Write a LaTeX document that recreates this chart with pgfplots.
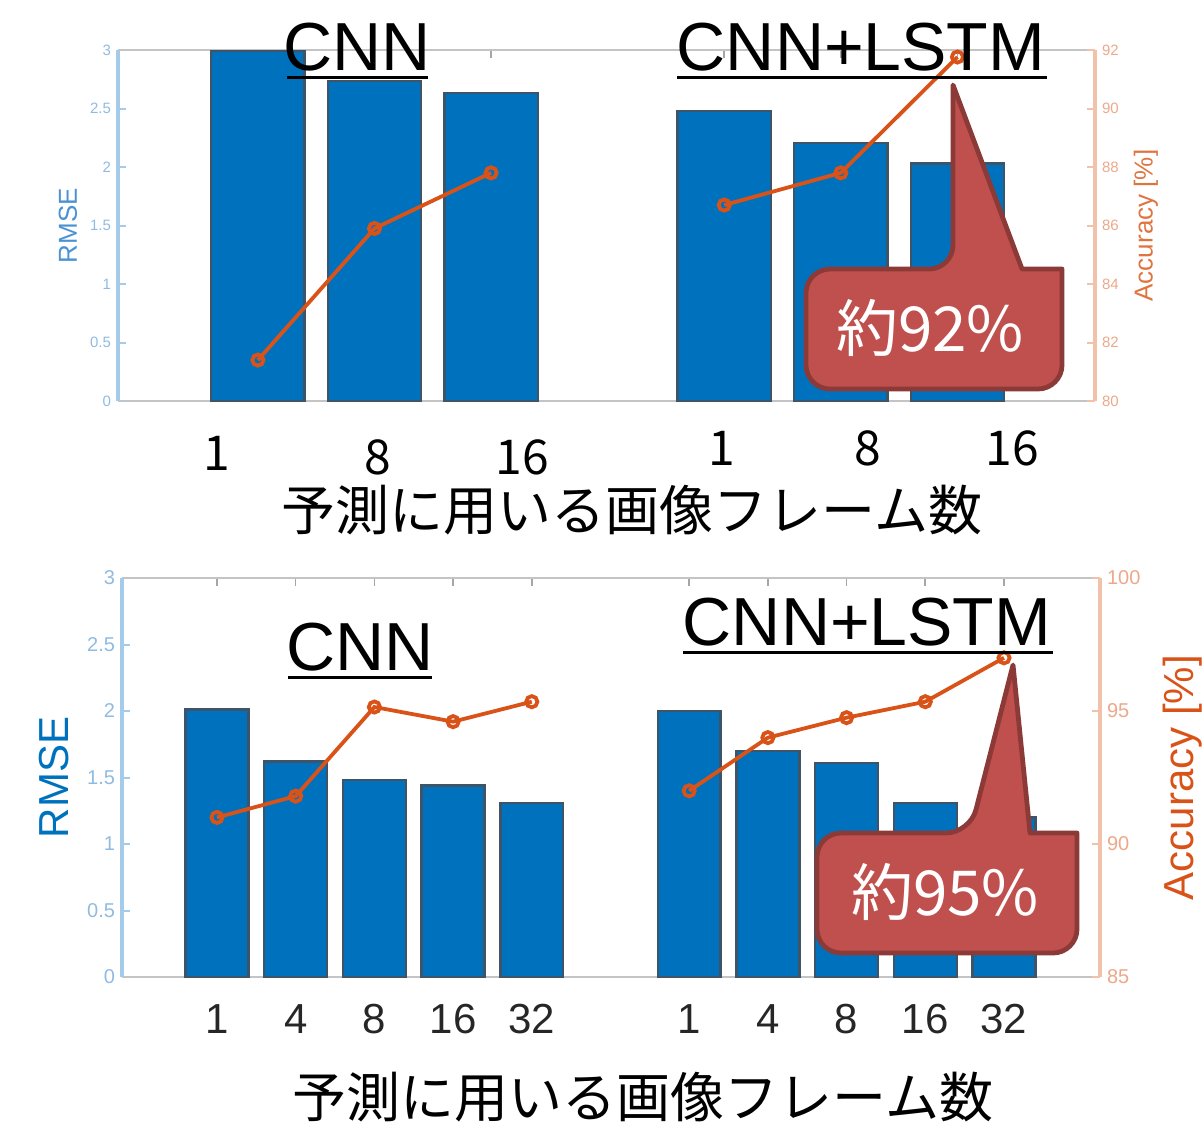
\documentclass[border=0pt]{standalone}
\usepackage{pgfplots}
\pgfplotsset{compat=1.18}
\usepackage{fontspec}
\setmainfont{Liberation Sans}
\newfontfamily\jp{Noto Sans CJK JP}
\definecolor{mblue}{HTML}{0072BD}
\definecolor{morange}{HTML}{D95319}
\definecolor{paleblue}{HTML}{A5CBEA}
\definecolor{paletick}{HTML}{8FBBE2}
\definecolor{paleorange}{HTML}{F2C1A9}
\definecolor{paletickor}{HTML}{ECA88A}
\definecolor{boxgray}{HTML}{C4C4C4}
\definecolor{callfill}{HTML}{C0504D}
\definecolor{callline}{HTML}{8C3A38}
\definecolor{baredge}{HTML}{3E5468}
\definecolor{rmsetop}{HTML}{4A92D4}
\definecolor{acctop}{HTML}{E0743F}
\definecolor{ticktext}{HTML}{262626}

\pgfplotsset{
  baraxis/.style={
    scale only axis,
    axis x line*=box, axis y line*=left,
    x axis line style={boxgray, line width=1.3pt},
    y axis line style={paleblue, line width=1.6pt},
    tick align=inside,
    xtick style={gray!70, line width=0.8pt},
    ytick={0,0.5,1,1.5,2,2.5,3},
    yticklabels={0,0.5,1,1.5,2,2.5,3},
    ytick style={paleblue, line width=1pt},
    major tick length=4pt,
    ymin=0, ymax=3,
    /pgf/number format/assume math mode=true,
  },
  lineaxis/.style={
    scale only axis,
    axis x line=none, axis y line*=right,
    xtick=\empty,
    y axis line style={paleorange, line width=1.6pt},
    tick align=inside, major tick length=4pt,
    ytick style={paleorange, line width=1pt},
    /pgf/number format/assume math mode=true,
  },
  barplot/.style={ybar, bar width=0.8, fill=mblue, draw=baredge, line width=1.2pt},
  accplot/.style={morange, line width=1.9pt, mark=o, mark size=2.8pt, mark options={solid, line width=1.9pt}},
}

\begin{document}
\begin{tikzpicture}
% ---------------- top chart ----------------
\begin{axis}[baraxis,
  at={(59pt,-200.5pt)}, anchor=south west,
  width=488.5pt, height=175.5pt,
  xmin=-0.2, xmax=8.18,
  xtick={1,2,3,5,6,7}, xticklabels={},
  yticklabel style={font=\fontsize{7.5}{9}\selectfont, text=paletick},
  ylabel={RMSE},
  every axis y label/.style={at={(axis description cs:-0.0512,0.5)}, rotate=90, anchor=center, font=\fontsize{13}{15}\selectfont, text=rmsetop},
]
\addplot[barplot] coordinates {(1,2.99)(2,2.735)(3,2.63)(5,2.48)(6,2.205)(7,2.03)};
\end{axis}
\begin{axis}[lineaxis,
  at={(59pt,-200.5pt)}, anchor=south west,
  width=488.5pt, height=175.5pt,
  xmin=-0.2, xmax=8.18, ymin=80, ymax=92,
  ytick={80,82,84,86,88,90,92},
  yticklabel style={font=\fontsize{7.5}{9}\selectfont, text=paletickor},
  ylabel={Accuracy [\%]},
  every axis y label/.style={at={(axis description cs:1.052,0.5)}, rotate=90, anchor=center, font=\fontsize{13}{15}\selectfont, text=acctop},
]
\addplot[accplot] coordinates {(1,81.4)(2,85.9)(3,87.8)};
\addplot[accplot] coordinates {(5,86.7)(6,87.8)(7,91.76)};
\end{axis}

% ---------------- bottom chart ----------------
\begin{axis}[baraxis,
  at={(61pt,-488.5pt)}, anchor=south west,
  width=489pt, height=199.5pt,
  xmin=-0.207, xmax=12.22,
  xtick={1,2,3,4,5,7,8,9,10,11},
  xticklabels={1,4,8,16,32,1,4,8,16,32},
  xticklabel style={font=\fontsize{21}{24}\selectfont, text=ticktext, anchor=base, yshift=-28pt},
  yticklabel style={font=\fontsize{10}{12}\selectfont, text=paletick},
  ylabel={RMSE},
  every axis y label/.style={at={(axis description cs:-0.0695,0.5)}, rotate=90, anchor=center, font=\fontsize{21}{24}\selectfont, text=mblue},
]
\addplot[barplot] coordinates {(1,2.01)(2,1.62)(3,1.48)(4,1.44)(5,1.31)(7,2.0)(8,1.70)(9,1.61)(10,1.31)(11,1.2)};
\end{axis}
\begin{axis}[lineaxis,
  at={(61pt,-488.5pt)}, anchor=south west,
  width=489pt, height=199.5pt,
  xmin=-0.207, xmax=12.22, ymin=85, ymax=100,
  ytick={85,90,95,100},
  yticklabel style={font=\fontsize{10}{12}\selectfont, text=paletickor},
  ylabel={Accuracy [\%]},
  every axis y label/.style={at={(axis description cs:1.084,0.5)}, rotate=90, anchor=center, font=\fontsize{21}{24}\selectfont, text=morange},
]
\addplot[accplot] coordinates {(1,91.0)(2,91.8)(3,95.15)(4,94.6)(5,95.35)};
\addplot[accplot] coordinates {(7,92.0)(8,94.0)(9,94.75)(10,95.35)(11,97.0)};
\end{axis}

% ---------------- annotations (pixel coordinates) ----------------
\begin{scope}[x=0.5pt, y=-0.5pt]
  % titles
  \node[anchor=base, inner sep=0, font=\fontsize{34}{36}\selectfont] at (357,70) {CNN};
  \draw[line width=1.5pt] (287,77) -- (428,77);
  \node[anchor=base, inner sep=0, font=\fontsize{34}{36}\selectfont] at (861,70) {CNN+LSTM};
  \draw[line width=1.5pt] (677,77) -- (1047,77);
  \node[anchor=base, inner sep=0, font=\fontsize{34}{36}\selectfont] at (360,670) {CNN};
  \draw[line width=1.5pt] (288,677) -- (432,677);
  \node[anchor=base, inner sep=0, font=\fontsize{34}{36}\selectfont] at (867,645) {CNN+LSTM};
  \draw[line width=1.5pt] (683,652) -- (1053,652);
  % top frame-count labels
  \begin{scope}[every node/.style={anchor=base, inner sep=0, font=\jp\fontsize{24}{26}\selectfont}]
    \node at (217,470) {1};
    \node at (378,474) {8};
    \node at (522,474) {16};
    \node at (722,465) {1};
    \node at (868,465) {8};
    \node at (1012,465) {16};
  \end{scope}
  % x labels
  \node[font=\jp\fontsize{27}{30}\selectfont] at (632,510) {予測に用いる画像フレーム数};
  \node[font=\jp\fontsize{27}{30}\selectfont] at (643,1097) {予測に用いる画像フレーム数};
  % callout top
  \draw[callline, fill=callfill, line width=2.4pt, line join=round]
    (806,329) [rounded corners=12] -- (806,269) -- (953,269)
    [sharp corners] -- (953,85) -- (1022,269) -- (1062,269)
    [rounded corners=12] -- (1062,389) -- (806,389) -- cycle;
  \node[text=white, font=\jp\fontsize{31}{33}\selectfont] at (930,328) {約92\%};
  % callout bottom
  \draw[callline, fill=callfill, line width=2.4pt, line join=round]
    (817,893) [rounded corners=12] -- (817,833) -- (970,833)
    [sharp corners] -- (1013,665) -- (1030,833) -- (1077,833)
    [rounded corners=12] -- (1077,953) -- (817,953) -- cycle;
  \node[text=white, font=\jp\fontsize{31}{33}\selectfont] at (945,892) {約95\%};
\end{scope}

\pgfresetboundingbox
\path (0,0) rectangle (602pt,-562pt);
\end{tikzpicture}
\end{document}
